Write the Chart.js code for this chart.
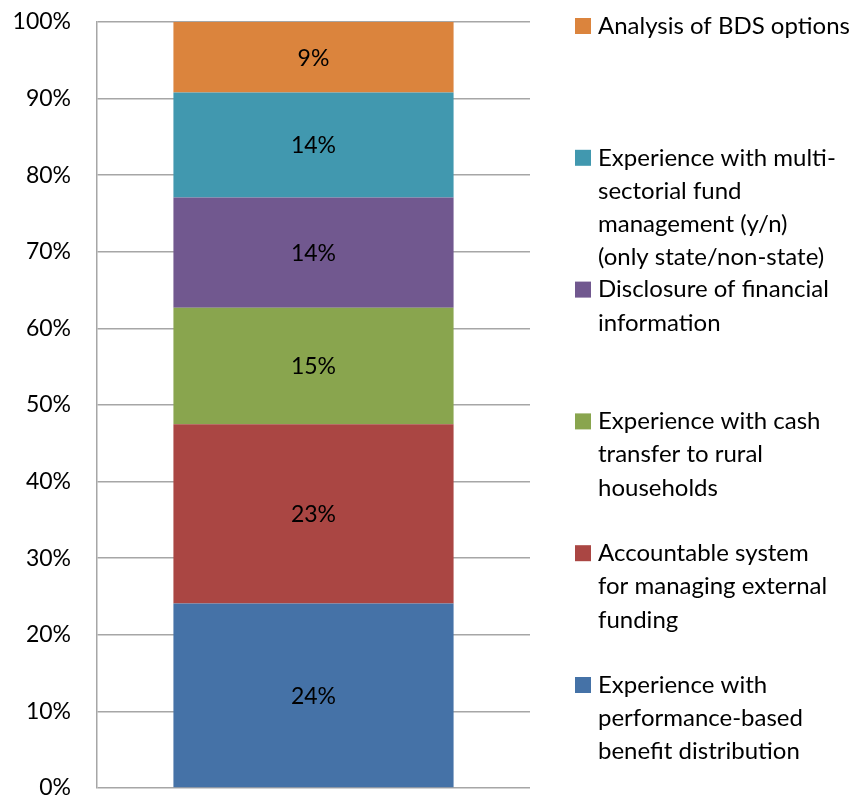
<!DOCTYPE html>
<html>
<head>
<meta charset="utf-8">
<script src="https://cdn.jsdelivr.net/npm/chart.js@4"></script>
<style>
    html, body { margin: 0; padding: 0; background: #ffffff; }
    #contenedor { width: 863px; height: 797px; position: relative; }
</style>
</head>
<body>
<div id="contenedor"><canvas id="grafica"></canvas></div>
<script>
// datos (de abajo hacia arriba)
const categorias = [""];
const series = [
    "Experience with performance-based benefit distribution",
    "Accountable system for managing external funding",
    "Experience with cash transfer to rural households",
    "Disclosure of financial information",
    "Experience with multi-sectorial fund management (y/n) (only state/non-state)",
    "Analysis of BDS options"
];
const lineasLeyenda = [
    ["Experience with", "performance-based", "benefit distribution"],
    ["Accountable system", "for managing external", "funding"],
    ["Experience with cash", "transfer to rural", "households"],
    ["Disclosure of financial", "information"],
    ["Experience with multi-", "sectorial fund", "management (y/n)", "(only state/non-state)"],
    ["Analysis of BDS options"]
];
const valores = [24.1, 23.4, 15.2, 14.4, 13.7, 9.2];
const etiquetas = ["24%", "23%", "15%", "14%", "14%", "9%"];
const ticksY = [0, 10, 20, 30, 40, 50, 60, 70, 80, 90, 100];

const colores = ["#4572A7", "#AA4643", "#89A54E", "#71588F", "#4198AF", "#DB843D"];
const fuente = "Lato, 'Open Sans', sans-serif";
const colorGrid = "#a6a6a6";

const etiquetasBarra = {
    id: "etiquetasBarra",
    afterDatasetsDraw(chart) {
        const ctx = chart.ctx;
        ctx.save();
        ctx.font = `23px ${fuente}`;
        ctx.fillStyle = "#000000";
        ctx.textAlign = "center";
        ctx.textBaseline = "middle";
        chart.data.datasets.forEach((ds, i) => {
            const barra = chart.getDatasetMeta(i).data[0];
            const centro = (barra.y + barra.base) / 2;
            ctx.fillText(etiquetas[i], barra.x, centro + 1);
        });
        ctx.restore();
    }
};

const leyendaLateral = {
    id: "leyendaLateral",
    afterDraw(chart) {
        const ctx = chart.ctx;
        ctx.save();
        ctx.font = `24px ${fuente}`;
        ctx.textBaseline = "middle";
        ctx.textAlign = "left";
        const n = series.length;
        for (let k = 0; k < n; k++) {
            const i = n - 1 - k;
            const y = 26 + k * 131.8;
            ctx.fillStyle = colores[i];
            ctx.fillRect(575, y - 8, 16, 16);
            ctx.fillStyle = "#000000";
            lineasLeyenda[i].forEach((linea, j) => {
                ctx.fillText(linea, 598, y + j * 33.3);
            });
        }
        ctx.restore();
    }
};

new Chart(document.getElementById("grafica"), {
    type: "bar",
    data: {
        labels: categorias,
        datasets: series.map((nombre, i) => ({
            label: nombre,
            data: [valores[i]],
            backgroundColor: colores[i],
            borderWidth: 0,
            categoryPercentage: 0.647,
            barPercentage: 1
        }))
    },
    options: {
        responsive: true,
        maintainAspectRatio: false,
        animation: false,
        layout: { padding: { left: 0, right: 333, top: 22, bottom: 9 } },
        plugins: {
            legend: { display: false },
            tooltip: { enabled: false }
        },
        scales: {
            x: {
                stacked: true,
                display: false
            },
            y: {
                stacked: true,
                min: 0,
                max: 100,
                afterBuildTicks(scale) {
                    scale.ticks = ticksY.map(v => ({ value: v }));
                },
                afterFit(scale) { scale.width = 97; },
                ticks: {
                    color: "#000000",
                    font: { family: fuente, size: 23, lineHeight: 0.01 },
                    padding: 0,
                    callback: v => `${v}%`
                },
                grid: {
                    color: colorGrid,
                    lineWidth: 1.5,
                    drawTicks: true,
                    tickLength: 26,
                    tickColor: "rgba(0,0,0,0)"
                },
                border: { color: colorGrid, width: 1.5 }
            }
        }
    },
    plugins: [etiquetasBarra, leyendaLateral]
});
</script>
</body>
</html>
